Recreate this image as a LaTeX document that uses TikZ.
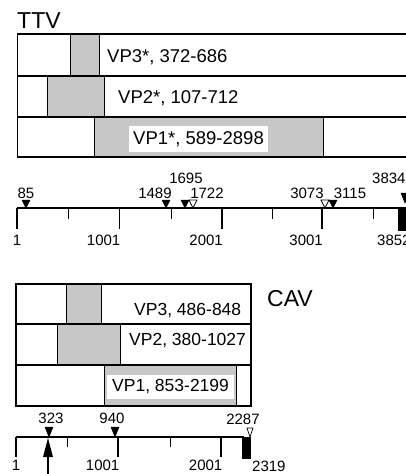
\documentclass[tikz,border=0pt]{standalone}
\usepackage{fontspec}
\setmainfont{Liberation Sans}
\begin{document}
\begin{tikzpicture}[x=1pt,y=-1pt,
  rowbox/.style={draw=black,line width=1.4pt},
  shadebox/.style={fill=black!22,draw=black,line width=0.8pt},
  axisline/.style={line width=1.3pt},
  majortick/.style={line width=1.3pt},
  minortick/.style={line width=1.0pt},
  ftri/.style={fill=black,draw=black,line width=0.5pt,line join=miter},
  otri/.style={fill=white,draw=black,line width=0.7pt,line join=miter},
  numlab/.style={font=\fontsize{15}{16}\selectfont,inner sep=0pt},
  vplab/.style={font=\fontsize{18.5}{19}\selectfont,inner sep=1pt},
  cvlab/.style={font=\fontsize{17.5}{18}\selectfont,inner sep=1pt},
  title/.style={font=\fontsize{23}{24}\selectfont,inner sep=0pt}]
\useasboundingbox (0,0) rectangle (406,474);
\clip (0,0) rectangle (406,474);

% ---------------- TTV ----------------
\node[title,anchor=west] (ttv) at (17,21) {TTV};

\draw[shadebox] (70,34) rectangle (99,76);
\draw[shadebox] (47,76) rectangle (104,117);
\draw[shadebox] (94,117) rectangle (323,157);
\draw[rowbox] (17.5,34) rectangle (430,76);
\draw[rowbox] (17.5,76) rectangle (430,117);
\draw[rowbox] (17.5,117) rectangle (430,157);

\node[vplab,anchor=west] (tvp3) at (106,57) {VP3*, 372-686};
\node[vplab,anchor=west] (tvp2) at (117,98) {VP2*, 107-712};
\node[vplab,anchor=west,fill=white,inner xsep=4pt,inner ysep=5pt] (tvp1) at (129,139) {VP1*, 589-2898};

% axis
\draw[axisline] (17,208) -- (420,208);
\foreach \x in {17,119.5,222,322} \draw[majortick] (\x,208) -- (\x,229);
\foreach \x in {68,171,272,373} \draw[minortick] (\x,208) -- (\x,219);
\fill (398,208) rectangle (412,231);

\foreach \x in {26,166,185,333} \draw[ftri] (\x-4,200) -- (\x+4,200) -- (\x,208) -- cycle;
\foreach \x in {193,325} \draw[otri] (\x-4,200) -- (\x+4,200) -- (\x,208) -- cycle;
\draw[ftri] (401,193) -- (409,193) -- (405,203) -- cycle;

\node[numlab] (t85) at (26,193) {85};
\node[numlab] (t1489) at (155,193) {1489};
\node[numlab] (t1695) at (186,178) {1695};
\node[numlab] (t1722) at (207,193) {1722};
\node[numlab] (t3073) at (307,193) {3073};
\node[numlab] (t3115) at (350,193) {3115};
\node[numlab,anchor=west] (t3834) at (372,178) {3834};

\node[numlab] (t1) at (17,240) {1};
\node[numlab,anchor=east] (t1001) at (120.5,240) {1001};
\node[numlab,anchor=east] (t2001) at (223,240) {2001};
\node[numlab,anchor=east] (t3001) at (323,240) {3001};
\node[numlab,anchor=west] (t3852) at (377,240) {3852};

% ---------------- CAV ----------------
\node[title] (cav) at (290,299) {CAV};

\draw[shadebox] (66,284) rectangle (101,324);
\draw[shadebox] (57,324) rectangle (120,365);
\draw[shadebox] (104,365) rectangle (236,406);
\draw[rowbox] (16,284) rectangle (251,324);
\draw[rowbox] (16,324) rectangle (251,365);
\draw[rowbox] (16,365) rectangle (251,406);

\node[cvlab,anchor=west] (cvp3) at (133,311) {VP3, 486-848};
\node[cvlab,anchor=west] (cvp2) at (128,341) {VP2, 380-1027};
\node[cvlab,anchor=west,fill=white,inner xsep=5pt,inner ysep=5pt] (cvp1) at (107,387) {VP1, 853-2199};

% axis
\draw[axisline] (16,437) -- (244,437);
\foreach \x in {16,118,221} \draw[majortick] (\x,437) -- (\x,457);
\foreach \x in {67,170} \draw[minortick] (\x,437) -- (\x,447);
\fill (242,437) rectangle (251,459);

\foreach \x in {49,115} \draw[ftri] (\x-4,427) -- (\x+4,427) -- (\x,437) -- cycle;
\draw[otri] (247,428) -- (253,428) -- (250,437) -- cycle;

\node[numlab] (c323) at (51,418) {323};
\node[numlab] (c940) at (112,418) {940};
\node[numlab] (c2287) at (243,419) {2287};

\node[numlab] (c1) at (16,465) {1};
\node[numlab,anchor=east] (c1001) at (119.5,465) {1001};
\node[numlab,anchor=east] (c2001) at (222.5,465) {2001};
\node[numlab,anchor=west] (c2319) at (252,466) {2319};

% start arrow
\coordinate (arrbase) at (48,474);
\coordinate (arrtip) at (48,438);
\draw[line width=1.3pt] (arrbase) -- (48,455);
\fill (43,457) -- (53,457) -- (arrtip) -- cycle;
\end{tikzpicture}
\end{document}
